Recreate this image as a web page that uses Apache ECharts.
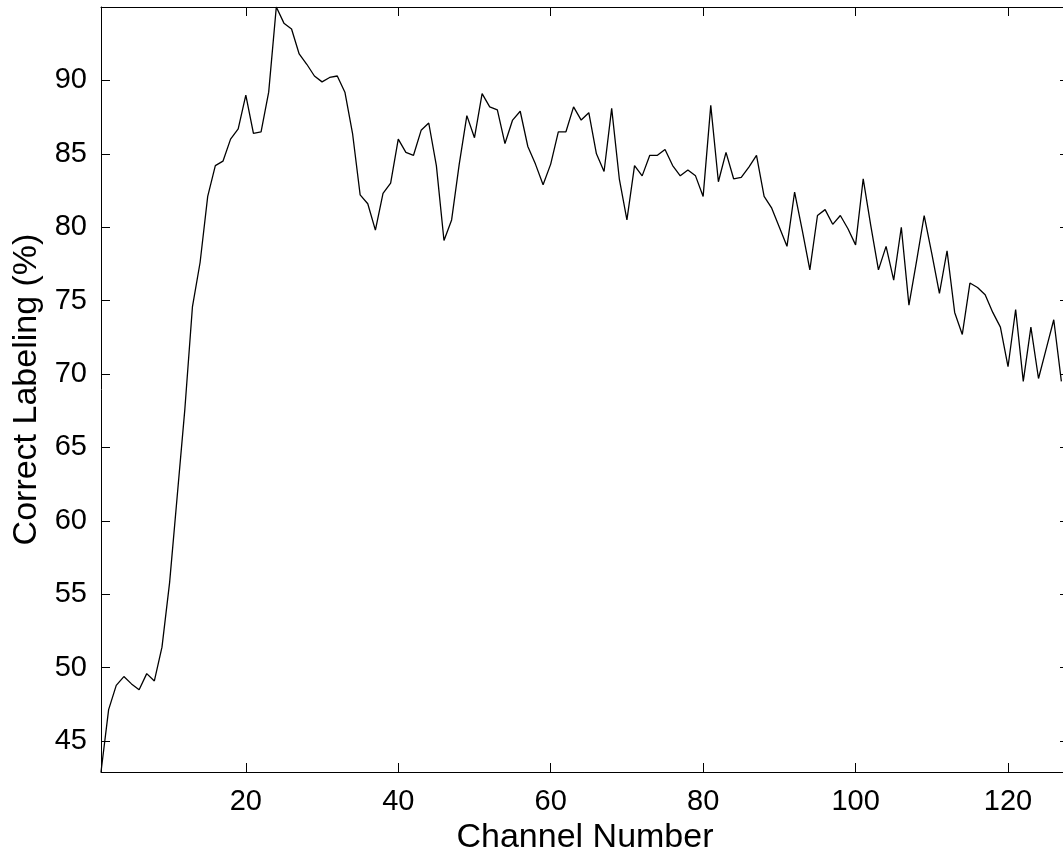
<!DOCTYPE html>
<html>
<head>
<meta charset="utf-8">
<script src="https://cdn.jsdelivr.net/npm/echarts@6/dist/echarts.min.js"></script>
<style>
  html, body { margin: 0; padding: 0; background: #fff; overflow: hidden; }
  #chart { width: 1072px; height: 852px; }
</style>
</head>
<body>
<div id="chart"></div>
<script>
// correct labeling (%) per channel, channels 1..127
var labeling = [
    42.9, 47.15, 48.8, 49.4, 48.9, 48.5, 49.6, 49.1, 51.4, 55.8,
    61.7, 67.6, 74.6, 77.6, 82.1, 84.2, 84.5, 86.0, 86.7, 89.0,
    86.4, 86.5, 89.2, 95.0, 93.9, 93.5, 91.8, 91.1, 90.3, 89.9,
    90.2, 90.3, 89.2, 86.4, 82.2, 81.6, 79.8, 82.3, 83.0, 86.0,
    85.1, 84.9, 86.6, 87.1, 84.2, 79.1, 80.5, 84.3, 87.6, 86.1,
    89.1, 88.2, 88.0, 85.7, 87.3, 87.9, 85.5, 84.3, 82.9, 84.3,
    86.5, 86.5, 88.2, 87.3, 87.8, 85.0, 83.8, 88.1, 83.3, 80.5,
    84.2, 83.5, 84.9, 84.9, 85.3, 84.2, 83.5, 83.9, 83.5, 82.1,
    88.3, 83.1, 85.1, 83.3, 83.4, 84.1, 84.9, 82.1, 81.3, 80.0,
    78.7, 82.4, 79.8, 77.1, 80.8, 81.2, 80.2, 80.8, 79.9, 78.8,
    83.3, 80.1, 77.1, 78.7, 76.4, 80.0, 74.7, 77.7, 80.8, 78.2,
    75.5, 78.4, 74.2, 72.7, 76.2, 75.9, 75.4, 74.2, 73.2, 70.5,
    74.4, 69.5, 73.2, 69.7, 71.7, 73.7, 69.5
];
var channels = labeling.map(function (v, i) { return i + 1; });
var xTicks = [20, 40, 60, 80, 100, 120];
var yTicks = [45, 50, 55, 60, 65, 70, 75, 80, 85, 90];

var xMin = 1, xMax = 128;
var yMin = Math.min.apply(null, labeling);
var yMax = Math.max.apply(null, labeling);

var font = 'Liberation Sans, Arial, Helvetica, sans-serif';
var axisLine = { show: true, onZero: false, lineStyle: { color: '#000', width: 1 } };

var myChart = echarts.init(document.getElementById('chart'));
var option = {
    animation: false,
    backgroundColor: '#fff',
    grid: { left: 101, right: 3, top: 7, bottom: 80, containLabel: false, outerBoundsMode: 'none' },
    xAxis: [
        {
            type: 'value', min: xMin, max: xMax, position: 'bottom',
            name: 'Channel Number', nameLocation: 'middle', nameGap: 46,
            nameTextStyle: { fontFamily: font, fontSize: 34, color: '#000' },
            axisLine: axisLine,
            axisTick: { show: true, inside: true, length: 9, customValues: xTicks, lineStyle: { color: '#000' } },
            axisLabel: { show: true, margin: 15, customValues: xTicks, fontFamily: font, fontSize: 29, color: '#000' },
            splitLine: { show: false }
        },
        {
            type: 'value', min: xMin, max: xMax, position: 'top',
            axisLine: axisLine,
            axisTick: { show: true, inside: true, length: 9, customValues: xTicks, lineStyle: { color: '#000' } },
            axisLabel: { show: false },
            splitLine: { show: false }
        }
    ],
    yAxis: [
        {
            type: 'value', min: yMin, max: yMax, position: 'left',
            name: 'Correct Labeling (%)', nameLocation: 'middle', nameGap: 53,
            nameTextStyle: { fontFamily: font, fontSize: 34, color: '#000' },
            axisLine: axisLine,
            axisTick: { show: true, inside: true, length: 9, customValues: yTicks, lineStyle: { color: '#000' } },
            axisLabel: { show: true, margin: 14, customValues: yTicks, fontFamily: font, fontSize: 29, color: '#000' },
            splitLine: { show: false }
        },
        {
            type: 'value', min: yMin, max: yMax, position: 'right',
            axisLine: axisLine,
            axisTick: { show: true, inside: true, length: 9, customValues: yTicks, lineStyle: { color: '#000' } },
            axisLabel: { show: false },
            splitLine: { show: false }
        }
    ],
    series: [
        {
            type: 'line',
            xAxisIndex: 0,
            yAxisIndex: 0,
            showSymbol: false,
            symbol: 'none',
            lineStyle: { color: '#000', width: 1.3 },
            data: channels.map(function (c, i) { return [c, labeling[i]]; })
        }
    ]
};
myChart.setOption(option);
</script>
</body>
</html>
